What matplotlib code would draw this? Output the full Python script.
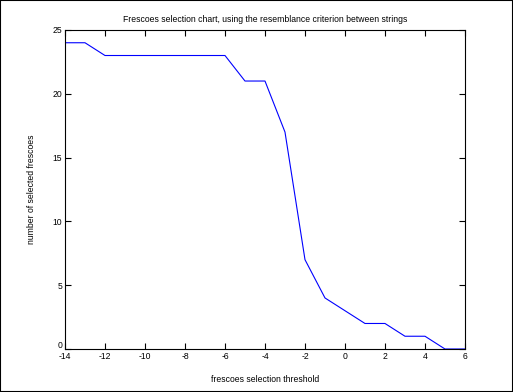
import matplotlib
matplotlib.use("Agg")
import matplotlib.pyplot as plt
from matplotlib.patches import Rectangle
from matplotlib.transforms import ScaledTranslation

thresholds = [-14, -13, -12, -11, -10, -9, -8, -7, -6, -5, -4, -3, -2, -1, 0, 1, 2, 3, 4, 5, 6]
selected = [24, 24, 23, 23, 23, 23, 23, 23, 23, 21, 21, 17, 7, 4, 3, 2, 2, 1, 1, 0, 0]
xticks = [-14, -12, -10, -8, -6, -4, -2, 0, 2, 4, 6]
yticks = [0, 5, 10, 15, 20, 25]

plt.rcParams['font.family'] = ['Liberation Sans', 'DejaVu Sans']
plt.rcParams['axes.unicode_minus'] = False
fig = plt.figure(figsize=(5.13, 3.92), dpi=100)
ax = fig.add_axes([0.1267, 0.1097, 0.7797, 0.8138])
ax.plot(thresholds, selected, color='#0000ff', linewidth=0.8)
ax.set_xlim(-14, 6)
ax.set_ylim(0, 25)
ax.set_xticks(xticks)
ax.set_yticks(yticks)
ax.tick_params(direction='in', top=True, right=True, labelsize=6.2, length=4, width=0.8, pad=2)
for s in ax.spines.values():
    s.set_linewidth(0.8)
ax.set_title('Frescoes selection chart, using the resemblance criterion between strings', fontsize=6.2, pad=6)
ax.set_xlabel('frescoes selection threshold', fontsize=6.2, labelpad=10)
ax.set_ylabel('number of selected frescoes', fontsize=6.2, labelpad=12)
fig.canvas.draw()
ylabels = ax.get_yticklabels()
ylabels[0].set_transform(ylabels[0].get_transform() + ScaledTranslation(0, 3/72, fig.dpi_scale_trans))
fig.patches.append(Rectangle((0, 0), 1, 1, transform=fig.transFigure, fill=False,
                             edgecolor='black', linewidth=1.5))
fig.savefig('out.png', dpi=100)
